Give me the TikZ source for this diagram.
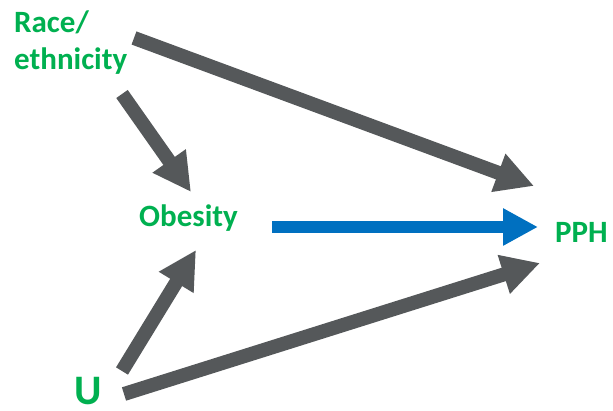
\documentclass[tikz,border=0pt]{standalone}
\usepackage{fontspec}
\setmainfont{Carlito}
\usetikzlibrary{arrows.meta}
\definecolor{labelgreen}{RGB}{0,176,80}
\definecolor{arrowgray}{RGB}{85,88,90}
\definecolor{arrowblue}{RGB}{0,112,192}
\begin{document}
\begin{tikzpicture}[x=1pt,y=-1pt,
    lbl/.style={text=labelgreen, font=\bfseries\fontsize{31}{37}\selectfont, inner sep=0pt},
    grayarrow/.style={draw=arrowgray, line width=14pt, -{Triangle[length=38pt,width=38pt]}},
    bluearrow/.style={draw=arrowblue, line width=12.5pt, -{Triangle[length=35pt,width=35pt]}}]
\useasboundingbox (0,0) rectangle (613,411);
% variables
\node[lbl, anchor=north west, align=left] (race) at (14,11) {Race/\\ethnicity};
\node[lbl, anchor=base west] (obesity) at (139,227) {Obesity};
\node[lbl, anchor=base west] (pph) at (555,243) {PPH};
\node[lbl, anchor=base west, font=\bfseries\fontsize{42}{46}\selectfont] (u) at (74,405) {U};
% arrow ends next to the labels
\coordinate (race-top) at (134,38);
\coordinate (race-low) at (122,94);
\coordinate (u-up) at (122,371);
\coordinate (u-right) at (124,394);
\coordinate (ob-top) at (191,192);
\coordinate (ob-low) at (196,250);
\coordinate (ob-right) at (272,227);
\coordinate (pph-top) at (534,186);
\coordinate (pph-mid) at (538,227);
\coordinate (pph-low) at (540,263);
% causal paths
\draw[grayarrow] (race-top) -- (pph-top);
\draw[grayarrow] (race-low) -- (ob-top);
\draw[grayarrow] (u-up) -- (ob-low);
\draw[grayarrow] (u-right) -- (pph-low);
\draw[bluearrow] (ob-right) -- (pph-mid);
\end{tikzpicture}
\end{document}
